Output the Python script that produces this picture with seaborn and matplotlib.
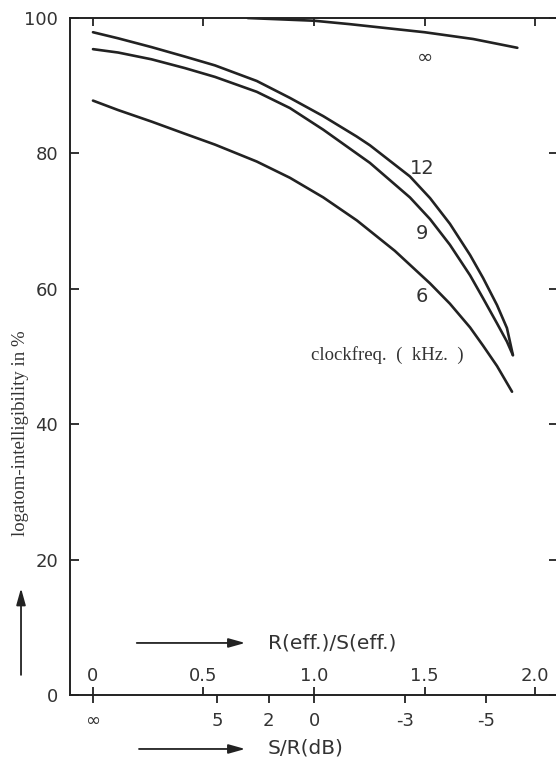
import matplotlib
matplotlib.use("Agg")
import matplotlib.pyplot as plt
import numpy as np
import pandas as pd
import seaborn as sns

# curves: x = R(eff.)/S(eff.), y = logatom intelligibility (%)
r_12 = [0.0, 0.114, 0.265, 0.416, 0.552, 0.741, 0.891, 1.042, 1.193, 1.253, 1.434,
        1.525, 1.615, 1.706, 1.765, 1.828, 1.873, 1.900]
y_12 = [97.9, 97.0, 95.7, 94.3, 93.0, 90.7, 88.2, 85.5, 82.5, 81.2, 76.6,
        73.4, 69.6, 65.0, 61.6, 57.6, 54.2, 50.2]
r_9 = [0.0, 0.114, 0.265, 0.416, 0.552, 0.741, 0.891, 1.042, 1.253, 1.434,
       1.525, 1.615, 1.706, 1.765, 1.828, 1.873, 1.900]
y_9 = [95.4, 94.9, 93.9, 92.6, 91.3, 89.1, 86.7, 83.5, 78.6, 73.5,
       70.3, 66.5, 62.0, 58.6, 54.9, 52.2, 50.2]
r_6 = [0.0, 0.114, 0.265, 0.416, 0.552, 0.741, 0.891, 1.042, 1.194, 1.366,
       1.525, 1.615, 1.706, 1.765, 1.828, 1.896]
y_6 = [87.8, 86.4, 84.7, 82.9, 81.3, 78.8, 76.4, 73.5, 70.1, 65.6,
       60.8, 57.8, 54.3, 51.6, 48.6, 44.8]
r_inf = [0.70, 1.00, 1.16, 1.50, 1.72, 1.92]
y_inf = [100.0, 99.6, 99.1, 97.9, 96.9, 95.6]

curve_names = ["∞", "12", "9", "6"]
label_pos = [(1.50, 94.2), (1.49, 77.8), (1.49, 68.2), (1.49, 58.9)]

r_ticks = [0, 0.5, 1.0, 1.5, 2.0]
r_labels = ["0", "0.5", "1.0", "1.5", "2.0"]
db_ticks = [np.inf, 5, 2, 0, -3, -5]
db_labels = ["∞", "5", "2", "0", "-3", "-5"]
y_ticks = [0, 20, 40, 60, 80, 100]

frames = []
for name, r, y in zip(curve_names, [r_inf, r_12, r_9, r_6], [y_inf, y_12, y_9, y_6]):
    frames.append(pd.DataFrame({"r": r, "y": y, "freq": name}))
df = pd.concat(frames, ignore_index=True)

sns.set_style("white")
plt.rcParams["font.family"] = ["DejaVu Sans"]

ink = "#222222"
txt = "#333333"

fig = plt.figure(figsize=(5.56, 7.6), dpi=100)
ax = fig.add_axes([0.1259, 0.0855, 0.8777, 0.8908])

sns.lineplot(data=df, x="r", y="y", hue="freq", units="freq", estimator=None,
             sort=False, palette={n: ink for n in curve_names}, linewidth=1.9,
             legend=False, ax=ax)
for line in ax.lines:
    line.set_solid_joinstyle("round")

ax.set_xlim(-0.104, 2.104)
ax.set_ylim(0, 100)
ax.set_xlabel("")
ax.set_ylabel("")

for s in ax.spines.values():
    s.set_linewidth(1.4)
    s.set_color(ink)

ax.set_yticks(y_ticks)
ax.tick_params(axis="y", direction="in", length=6.5, width=1.3, left=True, right=True,
               labelsize=13, pad=8.6, colors=ink, labelcolor=txt)
ax.set_xticks(r_ticks)
ax.tick_params(axis="x", direction="in", length=5.8, width=1.3, top=True, bottom=True,
               labelbottom=False, colors=ink)

# R(eff.)/S(eff.) labels sit above the axis line
for r, lab in zip(r_ticks, r_labels):
    ax.text(r, 2.1, lab, ha="center", va="baseline", fontsize=13, color=txt)

# S/R (dB) scale on the same line, ticks outward
db_pos = [0.0 if np.isinf(d) else 10 ** (-d / 20) for d in db_ticks]
sec = ax.secondary_xaxis("bottom", functions=(lambda x: x, lambda x: x))
sec.set_xticks(db_pos, labels=db_labels)
sec.tick_params(direction="out", length=5.8, width=1.3, pad=6.5, labelsize=13,
                colors=ink, labelcolor=txt)
sec.spines["bottom"].set_visible(False)

for name, (x, y) in zip(curve_names, label_pos):
    ax.text(x, y, name, ha="center", va="center", fontsize=14, color=txt)
ax.text(0.986, 50.2, "clockfreq.  (  kHz.  )", ha="left", va="center", fontsize=13.5,
        family="Liberation Serif", color=txt)

arrow = dict(arrowstyle="-|>,head_length=1.0,head_width=0.28", lw=1.3, color=ink,
             mutation_scale=10, shrinkA=0, shrinkB=0)
fig.add_artist(matplotlib.patches.FancyArrowPatch((0.246, 0.154), (0.441, 0.154),
               transform=fig.transFigure, **arrow))
fig.add_artist(matplotlib.patches.FancyArrowPatch((0.250, 0.0145), (0.441, 0.0145),
               transform=fig.transFigure, **arrow))
fig.add_artist(matplotlib.patches.FancyArrowPatch((0.0378, 0.112), (0.0378, 0.226),
               transform=fig.transFigure, **arrow))

fig.text(0.482, 0.154, "R(eff.)/S(eff.)", ha="left", va="center", fontsize=14.5, color=txt)
fig.text(0.482, 0.0155, "S/R(dB)", ha="left", va="center", fontsize=14.5, color=txt)
fig.text(0.036, 0.43, "logatom-intelligibility in %", rotation=90, ha="center",
         va="center", fontsize=13.5, family="Liberation Serif", color=txt)

fig.savefig("out.png", dpi=100, facecolor="white")
